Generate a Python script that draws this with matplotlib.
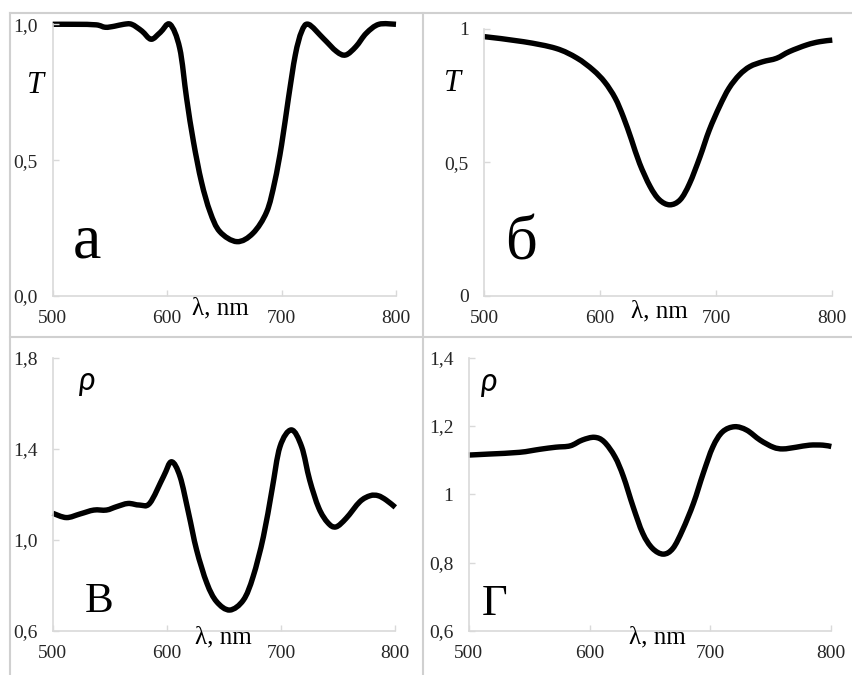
import matplotlib
matplotlib.use("Agg")
import matplotlib.pyplot as plt
from matplotlib.lines import Line2D
from matplotlib.path import Path
from matplotlib.patches import PathPatch

W, H = 853, 675

# panel a: transmission T
wl_a = [500, 520, 538, 546, 554, 562, 569, 578, 586, 594, 602.5, 611, 617, 623, 630, 637.5,
        646, 661, 675, 687, 694, 700, 706, 712, 717.5, 723.5, 736.5, 748, 756, 765, 774,
        785, 800]
T_a = [1.0, 1.0, 0.998, 0.989, 0.993, 1.0, 1.0, 0.975, 0.945, 0.97, 1.0, 0.912, 0.728,
       0.568, 0.42, 0.31, 0.237, 0.2, 0.231, 0.31, 0.42, 0.556, 0.728, 0.887, 0.973, 1.0,
       0.948, 0.9, 0.887, 0.918, 0.967, 1.0, 1.0]

# panel b: transmission T
wl_b = [500, 534, 562, 580, 594, 604, 613, 620, 627, 634, 643, 651, 660, 669, 677, 686,
        694, 703, 711, 720, 729, 740, 752, 763, 778, 789, 800]
T_b = [0.97, 0.951, 0.926, 0.89, 0.845, 0.80, 0.74, 0.67, 0.585, 0.496, 0.41, 0.36, 0.341,
       0.36, 0.42, 0.52, 0.62, 0.71, 0.777, 0.827, 0.858, 0.876, 0.889, 0.914, 0.939, 0.951,
       0.957]

# panel v: rho
wl_v = [500, 512, 524, 536, 547, 556, 566, 576, 585, 597, 604, 611.5, 619, 626, 635, 643.5,
        655, 667, 675.5, 684.5, 692, 699, 709, 718, 725, 733, 741, 748, 757, 769, 778, 785,
        792, 800]
rho_v = [1.117, 1.098, 1.114, 1.131, 1.131, 1.146, 1.16, 1.153, 1.161, 1.278, 1.343, 1.278,
         1.117, 0.956, 0.81, 0.729, 0.692, 0.736, 0.839, 1.014, 1.219, 1.409, 1.483, 1.409,
         1.263, 1.14, 1.075, 1.057, 1.095, 1.168, 1.194, 1.194, 1.175, 1.143]

# panel g: rho
wl_g = [500, 517, 542, 559, 572, 584, 594, 604, 612, 621, 628, 636, 644, 652, 661, 669, 677,
        686, 694, 702, 710, 720, 730, 741, 752, 760, 771, 782, 793, 800]
rho_g = [1.115, 1.118, 1.123, 1.132, 1.138, 1.142, 1.159, 1.167, 1.154, 1.11, 1.052, 0.964,
         0.886, 0.842, 0.825, 0.842, 0.896, 0.974, 1.061, 1.139, 1.183, 1.198, 1.188, 1.159,
         1.138, 1.133, 1.138, 1.144, 1.144, 1.14]

x_ticks = [500, 600, 700, 800]
yt_a = [0.0, 0.5, 1.0]
yl_a = ["0,0", "0,5", "1,0"]
yt_b = [0, 0.5, 1]
yl_b = ["0", "0,5", "1"]
yt_v = [0.6, 1.0, 1.4, 1.8]
yl_v = ["0,6", "1,0", "1,4", "1,8"]
yt_g = [0.6, 0.8, 1.0, 1.2, 1.4]
yl_g = ["0,6", "0,8", "1", "1,2", "1,4"]

serif = "Liberation Serif"
grey = "#d9d9d9"

fig = plt.figure(figsize=(W / 100, H / 100), dpi=100)


def px(x0, y0, x1, y1):
    # pixel box -> figure fraction rect
    return [x0 / W, 1 - y1 / H, (x1 - x0) / W, (y1 - y0) / H]


def smooth_line(x, y):
    # excel-style smoothed line: bezier segments through the points
    n = len(x)
    verts = [(x[0], y[0])]
    codes = [Path.MOVETO]
    for i in range(n - 1):
        a = max(i - 1, 0)
        b = min(i + 2, n - 1)
        c1 = (x[i] + (x[i + 1] - x[a]) / 6, y[i] + (y[i + 1] - y[a]) / 6)
        c2 = (x[i + 1] - (x[b] - x[i]) / 6, y[i + 1] - (y[b] - y[i]) / 6)
        verts += [c1, c2, (x[i + 1], y[i + 1])]
        codes += [Path.CURVE4] * 3
    return Path(verts, codes)


def make_axes(rect, wl, vals, yt, yl):
    ax = fig.add_axes(rect)
    ax.add_patch(PathPatch(smooth_line(wl, vals), fill=False, edgecolor="black",
                           lw=3.9, joinstyle="round", capstyle="butt", clip_on=False))
    ax.set_xlim(500, 800)
    ax.set_ylim(yt[0], yt[-1])
    ax.set_xticks(x_ticks)
    ax.set_xticklabels([str(t) for t in x_ticks])
    ax.set_yticks(yt)
    ax.set_yticklabels(yl)
    for s in ["top", "right"]:
        ax.spines[s].set_visible(False)
    for s in ["left", "bottom"]:
        ax.spines[s].set_color(grey)
        ax.spines[s].set_linewidth(1.2)
    ax.tick_params(direction="in", length=4, width=1, color=grey,
                   labelsize=14, labelcolor="#262626")
    ax.tick_params(axis="x", pad=10)
    ax.tick_params(axis="y", pad=11)
    for lab in ax.get_xticklabels() + ax.get_yticklabels():
        lab.set_family(serif)
    return ax


make_axes(px(52.7, 24.3, 396, 296), wl_a, T_a, yt_a, yl_a)
make_axes(px(484, 28.6, 832.3, 296), wl_b, T_b, yt_b, yl_b)
make_axes(px(52.7, 357.7, 395.3, 631), wl_v, rho_v, yt_v, yl_v)
make_axes(px(468.7, 357.7, 831.3, 631), wl_g, rho_g, yt_g, yl_g)


def ftext(x, y, s, **kw):
    fig.text(x / W, 1 - y / H, s, **kw)


# panel letters
ftext(73, 258, "а", family=serif, fontsize=46, ha="left", va="baseline")
ftext(505, 260, "б", family=serif, fontsize=45, ha="left", va="baseline")
ftext(85, 612, "В", family=serif, fontsize=31, ha="left", va="baseline")
ftext(482, 615, "Г", family=serif, fontsize=32, ha="left", va="baseline")

# axis labels
ftext(27, 93, "T", family=serif, style="italic", fontsize=22, ha="left", va="baseline")
ftext(444, 91, "T", family=serif, style="italic", fontsize=22, ha="left", va="baseline")
ftext(87, 381, "ρ", family="Lato", style="italic", fontsize=23, ha="center", va="center")
ftext(489, 382, "ρ", family="Lato", style="italic", fontsize=23, ha="center", va="center")
for cx, cy in [(220, 308), (659, 311), (223, 637), (657, 637)]:
    ftext(cx, cy, "λ, nm", family=serif, fontsize=18, ha="center", va="center")

# table borders
border = "#d0d0d0"
for (x0, y0, x1, y1) in [(10, 12.7, W, 12.7), (10, 336.7, W, 336.7),
                         (10, 12.7, 10, H), (422.7, 12.7, 422.7, H)]:
    fig.add_artist(Line2D([x0 / W, x1 / W], [1 - y0 / H, 1 - y1 / H],
                          transform=fig.transFigure, color=border, lw=1.5))

fig.savefig("out.png", dpi=100)
